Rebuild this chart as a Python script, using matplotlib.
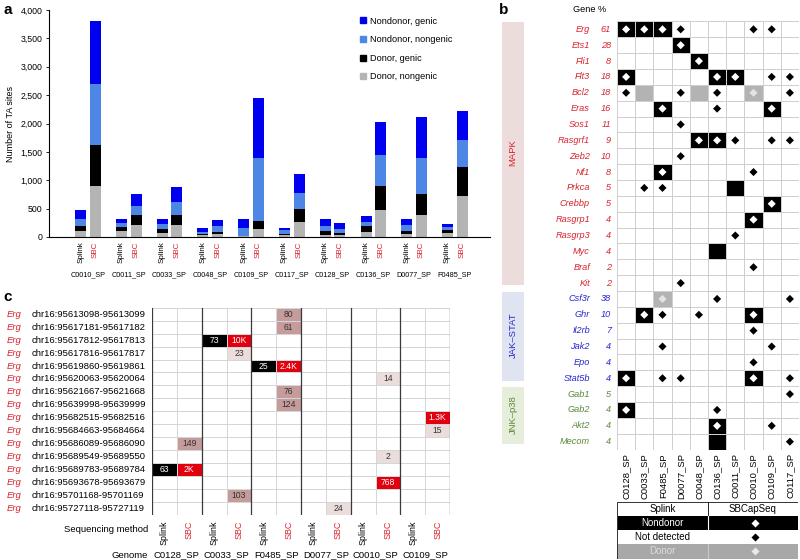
import numpy as np
import matplotlib
matplotlib.use('Agg')
import matplotlib.pyplot as plt
from matplotlib.colors import ListedColormap, BoundaryNorm
from matplotlib.lines import Line2D
from matplotlib.patches import Rectangle

plt.rcParams['font.family'] = ['Liberation Sans', 'DejaVu Sans']

# ---------------- data: panel a ----------------
samples_a = ['C0010_SP', 'C0011_SP', 'C0033_SP', 'C0048_SP', 'C0109_SP',
             'C0117_SP', 'C0128_SP', 'C0136_SP', 'D0077_SP', 'F0485_SP']
# segment sizes, bottom to top: donor nongenic, donor genic, nondonor nongenic, nondonor genic
splink_donor_nongenic = [100, 100, 70, 29, 12, 29, 41, 94, 53, 70]
splink_donor_genic = [88, 76, 71, 30, 11, 30, 70, 94, 47, 47]
splink_nondonor_nongenic = [134, 64, 88, 29, 129, 58, 77, 76, 111, 59]
splink_nondonor_genic = [147, 82, 93, 70, 170, 47, 134, 111, 106, 59]
sbc_donor_nongenic = [903, 217, 205, 53, 141, 264, 29, 469, 387, 727]
sbc_donor_genic = [722, 176, 176, 41, 141, 235, 47, 434, 364, 505]
sbc_nondonor_nongenic = [1073, 147, 235, 94, 1114, 281, 65, 546, 633, 469]
sbc_nondonor_genic = [1108, 222, 270, 117, 1050, 334, 105, 586, 722, 522]

# ---------------- data: panel b ----------------
genes_b = ['Erg', 'Ets1', 'Fli1', 'Flt3', 'Bcl2', 'Eras', 'Sos1', 'Rasgrf1', 'Zeb2',
           'Nf1', 'Prkca', 'Crebbp', 'Rasgrp1', 'Rasgrp3', 'Myc', 'Braf', 'Kit',
           'Csf3r', 'Ghr', 'Il2rb', 'Jak2', 'Epo', 'Stat5b',
           'Gab1', 'Gab2', 'Akt2', 'Mecom']
gene_pct = [61, 28, 8, 18, 18, 16, 11, 9, 10, 8, 5, 5, 4, 4, 4, 2, 2,
            38, 10, 7, 4, 4, 4, 5, 4, 4, 4]
pathways = [('MAPK', 0, 17), ('JAK\u2013STAT', 17, 23), ('JNK\u2013p38', 23, 27)]
samples_b = ['C0128_SP', 'C0033_SP', 'F0485_SP', 'D0077_SP', 'C0048_SP',
             'C0136_SP', 'C0011_SP', 'C0010_SP', 'C0109_SP', 'C0117_SP']
# Splink call per cell: '.' not detected, 'N' nondonor, 'D' donor
splink_calls = ['NNN.......', '...N......', '....N.....', 'N....NN...', '.D..D..D..',
                '..N.....N.', '..........', '....NN....', '..........', '..N.......',
                '......N...', '........N.', '.......N..', '..........', '.....N....',
                '..........', '..........',
                '..D.......', '.N.....N..', '..........', '..........', '..........',
                'N......N..',
                '..........', 'N.........', '.....N....', '.....N....']
# SBCapSeq detection per cell: 'X' detected
sbc_calls = ['XXXX...XX.', '...X......', '....X.....', 'X....XX.XX', 'X..X.X.X.X',
             '..X..X..X.', '...X......', '....XXX.XX', '...X......', '..X....X..',
             '.XX.......', '........X.', '.......X..', '......X...', '..........',
             '.......X..', '...X......',
             '..X..X...X', '.XX.X..X..', '.......X..', '..X.....X.', '.......X..',
             'X.XX...X.X',
             '.........X', 'X....X....', '.....X..X.', '.........X']

# ---------------- data: panel c ----------------
sites_c = ['chr16:95613098-95613099', 'chr16:95617181-95617182', 'chr16:95617812-95617813',
           'chr16:95617816-95617817', 'chr16:95619860-95619861', 'chr16:95620063-95620064',
           'chr16:95621667-95621668', 'chr16:95639998-95639999', 'chr16:95682515-95682516',
           'chr16:95684663-95684664', 'chr16:95686089-95686090', 'chr16:95689549-95689550',
           'chr16:95689783-95689784', 'chr16:95693678-95693679', 'chr16:95701168-95701169',
           'chr16:95727118-95727119']
genomes_c = ['C0128_SP', 'C0033_SP', 'F0485_SP', 'D0077_SP', 'C0010_SP', 'C0109_SP']
# (site row, column, read count); even columns Splink, odd columns SBC
count_row = [0, 1, 2, 2, 3, 4, 4, 5, 6, 7, 8, 9, 10, 11, 12, 12, 13, 14, 15]
count_col = [5, 5, 2, 3, 3, 4, 5, 9, 5, 5, 11, 11, 1, 9, 0, 1, 9, 3, 7]
count_val = [80, 61, 73, 10000, 23, 25, 2400, 14, 76, 124, 1300, 15, 149, 2, 63, 2000, 768, 103, 24]

RED = '#d8232d'
BLUE_T = '#2626d0'
GREEN_T = '#5a8a3a'
path_text = [RED, BLUE_T, GREEN_T]
path_fill = ['#eddcdc', '#dfe4f0', '#e6edda']

W, H = 800, 560
fig = plt.figure(figsize=(W / 100, H / 100), dpi=100)


def px_axes(l, t, r, b):
    return fig.add_axes([l / W, 1 - b / H, (r - l) / W, (b - t) / H])


# ================= panel a =================
ax = px_axes(49, 10, 490, 237)
x = np.arange(len(samples_a))
off, bw = 0.18, 0.27
seg_cols = ['#b4b4b4', '#000000', '#4d86e4', '#0000f0']
seg_names = ['Donor, nongenic', 'Donor, genic', 'Nondonor, nongenic', 'Nondonor, genic']
for xs, segs in [(x - off, [splink_donor_nongenic, splink_donor_genic,
                            splink_nondonor_nongenic, splink_nondonor_genic]),
                 (x + off, [sbc_donor_nongenic, sbc_donor_genic,
                            sbc_nondonor_nongenic, sbc_nondonor_genic])]:
    bottom = np.zeros(len(x))
    for vals, c in zip(segs, seg_cols):
        ax.bar(xs, vals, bw, bottom=bottom, color=c, linewidth=0)
        bottom += np.array(vals)

ax.set_xlim(-0.956, 9.86)
ax.set_ylim(0, 4000)
ax.set_yticks(np.arange(0, 4001, 500))
ax.set_yticklabels([f'{v:,}' for v in range(0, 4001, 500)], fontsize=6.3)
ax.tick_params(axis='y', length=2.5, width=0.6, pad=2)
ticks = np.ravel(np.column_stack([x - off, x + off]))
ax.set_xticks(ticks)
ax.set_xticklabels(['Splink', 'SBC'] * len(x), rotation=90, fontsize=5.8, va='top')
for lbl, c in zip(ax.get_xticklabels(), ['black', RED] * len(x)):
    lbl.set_color(c)
ax.tick_params(axis='x', length=0, pad=3)
for i, s in enumerate(samples_a):
    ax.annotate(s, xy=(i, 0), xycoords=('data', 'axes fraction'), xytext=(0, -27.4),
                textcoords='offset points', ha='center', va='center', fontsize=5.2)
for sp in ['top', 'right']:
    ax.spines[sp].set_visible(False)
ax.spines['left'].set_linewidth(0.8)
ax.spines['bottom'].set_linewidth(0.8)
ax.set_ylabel('Number of TA sites', fontsize=6.5)
ax.yaxis.set_label_coords((15 - 49) / 441, 0.5)
handles = [Line2D([], [], ls='', marker='s', markersize=5, color=c) for c in seg_cols[::-1]]
ax.legend(handles, seg_names[::-1], loc='upper left', bbox_to_anchor=(354 / W, 1 - 12 / H),
          bbox_transform=fig.transFigure, frameon=False, fontsize=6.6, handlelength=0.9,
          handletextpad=0.4, labelspacing=1.05, borderpad=0)

# ================= panel b =================
nrow, ncol = len(genes_b), len(samples_b)
spl = np.array([[{'.': 0, 'N': 1, 'D': 2}[ch] for ch in row] for row in splink_calls])
sbc = np.array([[ch == 'X' for ch in row] for row in sbc_calls])

axb = px_axes(617, 21.4, 799, 449.6)
axb.pcolormesh(np.arange(ncol + 1), np.arange(nrow + 1), spl,
               cmap=ListedColormap(['white', 'black', '#b3b3b3']), vmin=0, vmax=2,
               edgecolors='#cfcfcf', linewidth=0.5)
rr, cc = np.nonzero(sbc)
dcol = [{0: 'black', 1: 'white', 2: '#e4e4e4'}[spl[r, c]] for r, c in zip(rr, cc)]
axb.scatter(cc + 0.5, rr + 0.5, s=17, marker='D', c=dcol, linewidths=0)
axb.set_xlim(0, ncol)
axb.set_ylim(nrow, 0)
axb.set_yticks([])
axb.set_xticks(np.arange(ncol) + 0.5)
axb.set_xticklabels(samples_b, rotation=90, fontsize=6.8, va='top')
axb.tick_params(axis='x', length=0, pad=2.5)
for sp in axb.spines.values():
    sp.set_visible(False)

axl = px_axes(410, 21.4, 617, 449.6)
axl.set_xlim(410, 617)
axl.set_ylim(nrow, 0)
axl.axis('off')
for (pname, r0, r1), tc, fc in zip(pathways, path_text, path_fill):
    axl.add_patch(Rectangle((502, r0 + 0.05), 22, (r1 - r0) - 0.4, facecolor=fc, edgecolor='none'))
    axl.text(513, (r0 + r1) / 2 - 0.2, pname, rotation=90, ha='center', va='center',
             fontsize=6.8, color=tc)
    for r in range(r0, r1):
        axl.text(590, r + 0.5, genes_b[r], ha='right', va='center', fontsize=6.6,
                 style='italic', color=tc)
        axl.text(611, r + 0.5, str(gene_pct[r]), ha='right', va='center', fontsize=6.6,
                 style='italic', color=tc)
fig.text(606 / W, 1 - 10 / H, 'Gene %', ha='right', va='center', fontsize=6.6)

# legend table
axt = px_axes(617, 502, 798, 558.5)
axt.set_xlim(0, 2)
axt.set_ylim(4, 0)
axt.axis('off')
row_fc = ['white', 'black', 'white', '#a8a8a8']
row_txt = ['Splink', 'Nondonor', 'Not detected', 'Donor']
row_tc = ['black', 'white', 'black', '#dcdcdc']
dia_c = [None, 'white', 'black', '#e8e8e8']
for i in range(4):
    axt.add_patch(Rectangle((0, i), 2, 1, facecolor=row_fc[i], edgecolor='none'))
    axt.text(0.5, i + 0.5, row_txt[i], ha='center', va='center', fontsize=7, color=row_tc[i])
    if dia_c[i]:
        axt.scatter([1.52], [i + 0.5], s=17, marker='D', c=dia_c[i], linewidths=0)
axt.text(1.5, 0.5, 'SBCapSeq', ha='center', va='center', fontsize=7)
axt.plot([1, 1], [0, 1], color='black', lw=0.6)
axt.plot([1, 1], [1, 2], color='white', lw=0.8)
axt.plot([1, 1], [3, 4], color='#c8c8c8', lw=0.8)
axt.add_patch(Rectangle((0, 0), 2, 4, facecolor='none', edgecolor='#333333', lw=0.7))

# ================= panel c =================
nsite, ccols = len(sites_c), 2 * len(genomes_c)
cat = np.zeros((nsite, ccols), dtype=int)
for r, c, v in zip(count_row, count_col, count_val):
    if c % 2 == 0:
        cat[r, c] = 1
    elif v >= 500:
        cat[r, c] = 4
    elif v >= 50:
        cat[r, c] = 3
    else:
        cat[r, c] = 2

axc = px_axes(152, 307.7, 450, 515)
axc.pcolormesh(np.arange(ccols + 1), np.arange(nsite + 1), cat,
               cmap=ListedColormap(['white', 'black', '#ecdddd', '#c59b9b', '#e3000e']),
               norm=BoundaryNorm(np.arange(-0.5, 5.5), 5),
               edgecolors='#d6d6d6', linewidth=0.5)
for r, c, v in zip(count_row, count_col, count_val):
    lab = f'{v / 1000:g}K' if v >= 1000 else str(v)
    tc = 'white' if cat[r, c] in (1, 4) else '#333333'
    axc.text(c + 0.5, r + 0.5, lab, ha='center', va='center', fontsize=6.2, color=tc)
for xv in range(0, ccols + 1, 2):
    axc.axvline(xv, color='#3a3a3a', lw=0.9)
axc.set_xlim(0, ccols)
axc.set_ylim(nsite, 0)
axc.set_yticks([])
axc.set_xticks(np.arange(ccols) + 0.5)
axc.set_xticklabels(['Splink', 'SBC'] * len(genomes_c), rotation=90, fontsize=6.4, va='top')
for lbl, c in zip(axc.get_xticklabels(), ['black', RED] * len(genomes_c)):
    lbl.set_color(c)
axc.tick_params(axis='x', length=0, pad=4)
for sp in axc.spines.values():
    sp.set_visible(False)

axcl = px_axes(0, 307.7, 152, 515)
axcl.set_xlim(0, 152)
axcl.set_ylim(nsite, 0)
axcl.axis('off')
for r, s in enumerate(sites_c):
    axcl.text(7, r + 0.5, 'Erg', ha='left', va='center', fontsize=6.8, style='italic', color=RED)
    axcl.text(32, r + 0.5, s, ha='left', va='center', fontsize=6.8)
fig.text(148 / W, 1 - 529 / H, 'Sequencing method', ha='right', va='center', fontsize=6.8)
fig.text(148 / W, 1 - 555 / H, 'Genome', ha='right', va='center', fontsize=6.8)
for k, g in enumerate(genomes_c):
    fig.text((152 + (2 * k + 1) * 298 / 12) / W, 1 - 555 / H, g, ha='center', va='center',
             fontsize=6.8)

# panel letters
fig.text(3 / W, 1 - 10 / H, 'a', fontsize=11, fontweight='bold', va='center')
fig.text(499 / W, 1 - 10 / H, 'b', fontsize=11, fontweight='bold', va='center')
fig.text(3 / W, 1 - 297 / H, 'c', fontsize=11, fontweight='bold', va='center')

fig.savefig('out.png', dpi=100)
